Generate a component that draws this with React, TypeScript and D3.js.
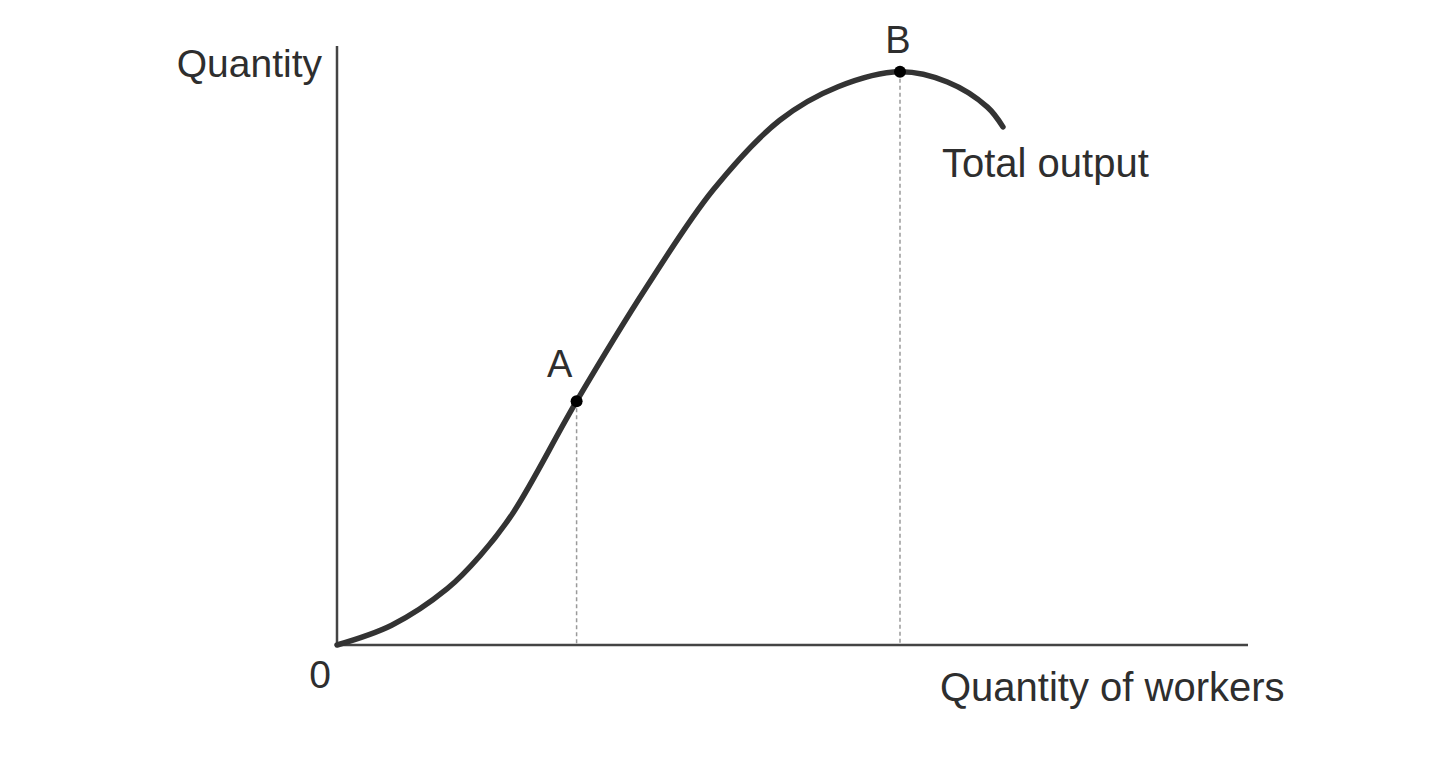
import React from "react";
import * as d3 from "d3";

// Total output curve (x: quantity of workers, y: quantity), 0..100 units
const curveX = [0, 6.0, 12.1, 15.7, 19.3, 26.3, 34.0, 41.3, 48.6, 55.0, 61.8, 67.0, 71.4, 73.1];
const curveY = [0, 3.3, 9.4, 14.9, 22.0, 40.7, 59.8, 76.0, 87.6, 93.2, 95.7, 94.0, 89.8, 86.5];

const pointLabels = ["A", "B"];
const pointX = [26.3, 61.8];
const pointY = [40.7, 95.7];

const W = 1440;
const H = 768;
const ox = 337;
const oy = 645;
const xEnd = 1248;
const yTop = 46;

export default function App() {
  const x = d3.scaleLinear().domain([0, 100]).range([ox, xEnd]);
  const y = d3.scaleLinear().domain([0, 100]).range([oy, yTop]);
  const pts: [number, number][] = curveX.map((v, i) => [v, curveY[i]]);
  const line = d3
    .line<[number, number]>()
    .x((d) => x(d[0]))
    .y((d) => y(d[1]))
    .curve(d3.curveCatmullRom.alpha(0.5));

  const font = "'Liberation Sans', Arial, Helvetica, sans-serif";
  const textColor = "#2e2e2e";

  return (
    <svg
      width={W}
      height={H}
      style={{ position: "absolute", left: 0, top: 0, background: "#fff" }}
    >
      {/* dashed guides */}
      {pointX.map((px, i) => (
        <line
          key={"g" + i}
          x1={x(px)}
          x2={x(px)}
          y1={y(pointY[i])}
          y2={y(0)}
          stroke="#9a9a9a"
          strokeWidth={1.5}
          strokeDasharray="4,3"
        />
      ))}
      {/* axes */}
      <line x1={x(0)} x2={x(0)} y1={yTop} y2={y(0) + 1} stroke="#444" strokeWidth={2.5} />
      <line x1={x(0) - 1} x2={xEnd} y1={y(0)} y2={y(0)} stroke="#444" strokeWidth={2.5} />
      {/* curve */}
      <path d={line(pts) || ""} fill="none" stroke="#333" strokeWidth={5.5} strokeLinecap="round" />
      {/* points */}
      {pointX.map((px, i) => (
        <circle key={"p" + i} cx={x(px)} cy={y(pointY[i])} r={6} fill="#000" />
      ))}
      {/* labels */}
      <text x={322} y={77} textAnchor="end" fontFamily={font} fontSize={39} fill={textColor}>
        Quantity
      </text>
      <text x={320} y={688} textAnchor="middle" fontFamily={font} fontSize={39} fill={textColor}>
        0
      </text>
      <text x={940} y={701} fontFamily={font} fontSize={40} fill={textColor}>
        Quantity of workers
      </text>
      <text x={942} y={177} fontFamily={font} fontSize={40} fill={textColor}>
        Total output
      </text>
      <text x={x(pointX[0]) - 17} y={377} textAnchor="middle" fontFamily={font} fontSize={38} fill={textColor}>
        {pointLabels[0]}
      </text>
      <text x={x(pointX[1]) - 2} y={53} textAnchor="middle" fontFamily={font} fontSize={38} fill={textColor}>
        {pointLabels[1]}
      </text>
    </svg>
  );
}
